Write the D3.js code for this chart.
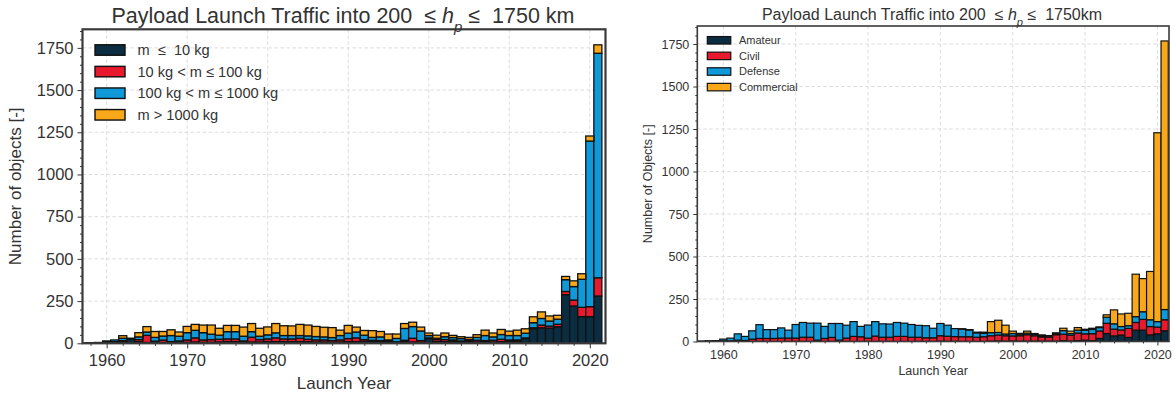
<!DOCTYPE html>
<html>
<head>
<meta charset="utf-8">
<script src="https://cdn.jsdelivr.net/npm/d3@7"></script>
<style>
  html, body { margin: 0; padding: 0; background: #fff; }
  svg { display: block; font-family: "Liberation Sans", Arial, Helvetica, sans-serif; }
  text { white-space: pre; }
</style>
</head>
<body>
<svg id="chart" width="1175" height="396"></svg>
<script>
// Launch years (one bar per year)
const years = [1957,1958,1959,1960,1961,1962,1963,1964,1965,1966,1967,1968,1969,
  1970,1971,1972,1973,1974,1975,1976,1977,1978,1979,1980,1981,1982,1983,1984,1985,
  1986,1987,1988,1989,1990,1991,1992,1993,1994,1995,1996,1997,1998,1999,2000,2001,
  2002,2003,2004,2005,2006,2007,2008,2009,2010,2011,2012,2013,2014,2015,2016,2017,
  2018,2019,2020,2021];

// Payloads per year by mass class
const massUpTo10 = [2,4,5,10,8,8,26,10,5,5,5,6,6,
  6,8,6,6,8,10,10,6,8,8,10,10,10,10,10,10,
  8,8,6,8,10,10,12,10,8,8,5,10,8,6,28,10,
  10,12,8,10,8,8,8,10,12,12,28,86,92,90,98,288,
  221,158,158,280];
const mass10to100 = [0,0,0,0,2,8,2,12,42,8,14,4,8,
  14,24,14,16,16,16,16,8,28,14,16,22,16,16,20,14,
  12,12,10,12,18,22,10,8,8,5,4,8,22,10,4,12,
  12,8,6,6,10,8,10,14,8,8,4,6,16,12,15,19,
  35,55,59,108];
const mass100to1000 = [0,0,0,4,10,14,2,16,20,22,24,36,28,
  43,45,43,32,24,43,43,28,33,20,24,30,20,20,16,20,
  20,18,18,26,32,35,26,17,22,7,20,70,69,57,14,8,
  17,14,14,7,17,30,20,28,26,26,28,30,39,30,30,70,
  80,166,981,1330];
const massOver1000 = [0,0,0,0,0,15,0,25,32,35,27,34,25,
  37,35,45,54,41,37,37,54,48,47,47,55,58,57,66,64,
  60,57,59,32,46,29,28,40,32,35,26,29,26,23,15,18,
  22,13,11,12,16,32,23,30,26,32,26,35,39,30,23,19,
  34,33,30,50];

// Payloads per year by mission type
const amateur = [0,0,0,0,0,0,0,0,0,0,0,0,0,
  0,0,0,0,0,0,0,0,0,0,0,0,0,0,0,0,
  0,0,0,0,2,1,1,0,0,0,0,2,3,2,3,2,
  2,2,2,2,2,5,3,5,8,5,18,47,33,38,24,67,
  67,39,45,63];
const civil = [1,2,2,4,4,8,6,14,18,18,18,20,20,
  20,25,25,8,18,24,8,20,30,28,20,32,25,25,30,30,
  25,25,22,22,32,30,28,28,28,25,28,32,35,32,30,32,
  38,32,25,24,38,38,34,45,37,41,44,60,40,30,53,45,
  63,49,40,65];
const defense = [1,2,3,10,16,37,24,49,81,52,52,60,47,
  80,87,83,100,71,82,98,76,87,61,77,85,79,78,82,78,
  75,70,71,56,72,65,47,45,40,26,20,18,15,10,14,9,
  9,8,7,5,7,21,10,17,21,25,20,36,31,20,16,34,
  45,40,32,60];
const commercial = [0,0,0,0,0,0,0,0,0,0,0,0,0,
  0,0,0,0,0,0,0,0,0,0,0,0,0,0,0,0,
  0,0,0,0,0,0,0,2,2,4,7,65,72,52,14,5,
  12,5,5,4,4,14,14,15,6,7,4,14,82,74,73,250,
  195,284,1111,1580];

// Axis tick values
const yearTicks = [1960,1970,1980,1990,2000,2010,2020];
const countTicks = [0,250,500,750,1000,1250,1500,1750];

const massLabels = ["m  \u2264  10 kg", "10 kg < m \u2264 100 kg", "100 kg < m \u2264 1000 kg", "m > 1000 kg"];
const typeLabels = ["Amateur", "Civil", "Defense", "Commercial"];
const palette = ["#0a2d42", "#e8192c", "#0f99d9", "#f8a818"];

const svg = d3.select("#chart");
const textColor = "#333";

function drawPanel(cfg) {
  const g = svg.append("g");
  const x = d3.scaleLinear().domain(cfg.xDomain).range([cfg.left, cfg.right]);
  const y = d3.scaleLinear().domain(cfg.yDomain).range([cfg.bottom, cfg.top]);

  const clipId = "clip-" + cfg.id;
  svg.append("clipPath").attr("id", clipId)
    .append("rect")
    .attr("x", cfg.left).attr("y", cfg.top)
    .attr("width", cfg.right - cfg.left).attr("height", cfg.bottom - cfg.top);

  // dashed grid
  const grid = g.append("g").attr("stroke", "#d9d9d9").attr("stroke-width", 0.9)
    .attr("stroke-dasharray", "3.5,2.5");
  grid.selectAll(".gx").data(yearTicks).join("line")
    .attr("x1", d => x(d)).attr("x2", d => x(d))
    .attr("y1", cfg.top).attr("y2", cfg.bottom);
  grid.selectAll(".gy").data(countTicks.filter(d => d > 0)).join("line")
    .attr("x1", cfg.left).attr("x2", cfg.right)
    .attr("y1", d => y(d)).attr("y2", d => y(d));

  // stacked bars
  const rows = years.map((yr, i) => {
    const r = { year: yr };
    cfg.series.forEach((s, k) => { r["s" + k] = s[i]; });
    return r;
  });
  const keys = cfg.series.map((s, k) => "s" + k);
  const stacked = d3.stack().keys(keys)(rows);

  const bars = g.append("g").attr("clip-path", `url(#${clipId})`);
  stacked.forEach((layer, k) => {
    bars.append("g").attr("fill", palette[k])
      .attr("stroke", "#111").attr("stroke-width", cfg.barStroke)
      .selectAll("rect").data(layer.filter(d => d[1] - d[0] > 0)).join("rect")
      .attr("x", d => x(d.data.year - 0.5))
      .attr("width", d => x(d.data.year + 0.5) - x(d.data.year - 0.5))
      .attr("y", d => y(d[1]))
      .attr("height", d => y(d[0]) - y(d[1]));
  });

  // axes with major and minor ticks
  const minorX = d3.range(1958, 2022, 2).filter(v => v % 10 !== 0);
  const minorY = d3.range(50, cfg.yDomain[1], 50).filter(v => v % 250 !== 0);

  const xAxis = g.append("g").attr("transform", `translate(0,${cfg.bottom})`)
    .call(d3.axisBottom(x).tickValues(yearTicks).tickFormat(d3.format("d"))
      .tickSize(cfg.majorLen).tickPadding(cfg.xPad));
  const yAxis = g.append("g").attr("transform", `translate(${cfg.left},0)`)
    .call(d3.axisLeft(y).tickValues(countTicks).tickFormat(d3.format("d"))
      .tickSize(cfg.majorLen).tickPadding(cfg.yPad));
  const xMinor = g.append("g").attr("transform", `translate(0,${cfg.bottom})`)
    .call(d3.axisBottom(x).tickValues(minorX).tickFormat("").tickSize(cfg.minorLen));
  const yMinor = g.append("g").attr("transform", `translate(${cfg.left},0)`)
    .call(d3.axisLeft(y).tickValues(minorY).tickFormat("").tickSize(cfg.minorLen));

  [xAxis, yAxis, xMinor, yMinor].forEach(a => {
    a.select(".domain").remove();
    a.selectAll(".tick line").attr("stroke", "#333").attr("stroke-width", 1);
    a.selectAll(".tick text").attr("fill", textColor)
      .style("font-size", cfg.tickFont + "px")
      .style("font-family", "'Liberation Sans', Arial, sans-serif");
  });

  // frame
  g.append("rect")
    .attr("x", cfg.left).attr("y", cfg.top)
    .attr("width", cfg.right - cfg.left).attr("height", cfg.bottom - cfg.top)
    .attr("fill", "none").attr("stroke", "#3a3a3a").attr("stroke-width", cfg.frameWidth);

  // title
  const t = g.append("text")
    .attr("x", cfg.titleX).attr("y", cfg.titleY)
    .attr("text-anchor", "middle").attr("fill", textColor)
    .style("font-size", cfg.titleFont + "px");
  t.append("tspan").text("Payload Launch Traffic into 200  \u2264 ");
  t.append("tspan").attr("font-style", "italic").text("h");
  t.append("tspan").attr("baseline-shift", "sub").style("font-size", "70%").attr("font-style", "italic").text("p");
  t.append("tspan").text(" \u2264  " + cfg.titleEnd);

  // axis labels
  g.append("text")
    .attr("x", (cfg.left + cfg.right) / 2).attr("y", cfg.xLabelY)
    .attr("text-anchor", "middle").attr("fill", textColor)
    .style("font-size", cfg.labelFont + "px")
    .text("Launch Year");
  g.append("text")
    .attr("transform", `translate(${cfg.yLabelX},${(cfg.top + cfg.bottom) / 2}) rotate(-90)`)
    .attr("text-anchor", "middle").attr("fill", textColor)
    .style("font-size", cfg.labelFont + "px")
    .text(cfg.yLabel);

  // legend
  const lg = g.append("g");
  cfg.legendLabels.forEach((lab, k) => {
    const cy = cfg.legend.y0 + k * cfg.legend.dy;
    lg.append("rect")
      .attr("x", cfg.legend.x).attr("y", cy - cfg.legend.h / 2)
      .attr("width", cfg.legend.w).attr("height", cfg.legend.h)
      .attr("fill", palette[k]).attr("stroke", "#111").attr("stroke-width", cfg.legend.stroke);
    lg.append("text")
      .attr("x", cfg.legend.tx).attr("y", cy)
      .attr("dy", "0.35em").attr("fill", textColor)
      .style("font-size", cfg.legend.font + "px")
      .text(lab);
  });
}

drawPanel({
  id: "mass",
  series: [massUpTo10, mass10to100, mass100to1000, massOver1000],
  legendLabels: massLabels,
  xDomain: [1957.0, 2021.95], yDomain: [0, 1860],
  left: 82.5, right: 605.5, top: 29.3, bottom: 343.3,
  barStroke: 1.3, frameWidth: 2.2,
  majorLen: 5, minorLen: 2.5, xPad: 6, yPad: 4,
  tickFont: 16.5, labelFont: 17, titleFont: 21.5,
  titleX: 343, titleY: 23, titleEnd: "1750 km",
  xLabelY: 389, yLabelX: 21, yLabel: "Number of objects [-]",
  legend: { x: 95, y0: 50, dy: 21.6, w: 30, h: 10.5, tx: 137.5, font: 14.6, stroke: 1.4 }
});

drawPanel({
  id: "type",
  series: [amateur, civil, defense, commercial],
  legendLabels: typeLabels,
  xDomain: [1956.4, 2021.6], yDomain: [0, 1856],
  left: 697.3, right: 1169, top: 26, bottom: 341.5,
  barStroke: 1.2, frameWidth: 1.6,
  majorLen: 4, minorLen: 2, xPad: 5, yPad: 4,
  tickFont: 12.5, labelFont: 12.5, titleFont: 16,
  titleX: 932, titleY: 20, titleEnd: "1750km",
  xLabelY: 375, yLabelX: 652, yLabel: "Number of Objects [-]",
  legend: { x: 707.3, y0: 40.3, dy: 15.6, w: 23.5, h: 7.5, tx: 739, font: 11, stroke: 1.2 }
});
</script>
</body>
</html>
